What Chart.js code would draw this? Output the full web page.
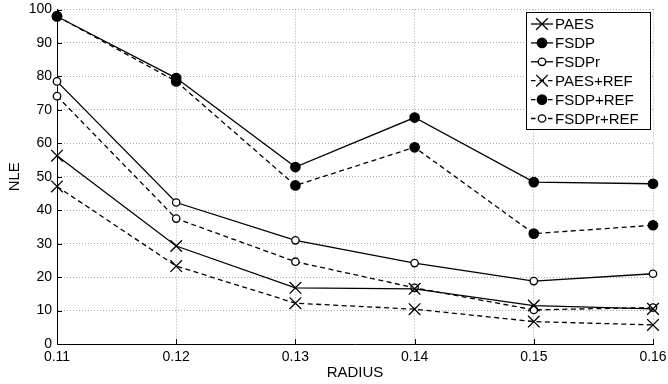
<!DOCTYPE html>
<html>
<head>
<meta charset="utf-8">
<script src="https://cdn.jsdelivr.net/npm/chart.js@4"></script>
<style>
  html, body { margin: 0; padding: 0; background: #fff; }
  #wrap { width: 668px; height: 384px; }
</style>
</head>
<body>
<div id="wrap"><canvas id="nleChart" width="668" height="384"></canvas></div>
<script>
const radius = [0.11, 0.12, 0.13, 0.14, 0.15, 0.16];
const seriesNames = ['PAES', 'FSDP', 'FSDPr', 'PAES+REF', 'FSDP+REF', 'FSDPr+REF'];
const paes = [56.3, 29.3, 16.8, 16.5, 11.5, 10.5];
const fsdp = [97.9, 79.5, 52.9, 67.7, 48.4, 47.9];
const fsdpr = [78.5, 42.3, 31.0, 24.2, 18.8, 21.0];
const paesRef = [47.1, 23.3, 12.2, 10.4, 6.7, 5.7];
const fsdpRef = [98.0, 78.5, 47.4, 58.8, 33.0, 35.5];
const fsdprRef = [74.1, 37.5, 24.6, 16.8, 10.2, 10.9];
const yTicks = [0, 10, 20, 30, 40, 50, 60, 70, 80, 90, 100];

const FONT = "'Liberation Sans', Arial, Helvetica, sans-serif";
const DASH = [5, 3.5];

// marker style per series: x = cross, f = filled circle, o = open circle
const styles = [
  { marker: 'x', dash: [] },
  { marker: 'f', dash: [] },
  { marker: 'o', dash: [] },
  { marker: 'x', dash: DASH },
  { marker: 'f', dash: DASH },
  { marker: 'o', dash: DASH }
];
const seriesData = [paes, fsdp, fsdpr, paesRef, fsdpRef, fsdprRef];

function pointOpts(m) {
  if (m === 'x') return { pointStyle: 'crossRot', pointRadius: 8.2, pointBackgroundColor: '#000' };
  if (m === 'f') return { pointStyle: 'circle', pointRadius: 4.7, pointBackgroundColor: '#000' };
  return { pointStyle: 'circle', pointRadius: 3.7, pointBackgroundColor: '#fff' };
}

const datasets = seriesData.map((vals, i) => Object.assign({
  label: seriesNames[i],
  data: vals.map((v, j) => ({ x: radius[j], y: v })),
  borderColor: '#000',
  borderWidth: 1.3,
  borderDash: styles[i].dash,
  pointBorderColor: '#000',
  pointBorderWidth: 1.3,
  tension: 0,
  clip: false
}, pointOpts(styles[i].marker)));

function drawMarker(ctx, m, x, y) {
  ctx.save();
  ctx.setLineDash([]);
  ctx.lineWidth = 1.3;
  ctx.strokeStyle = '#000';
  if (m === 'x') {
    const h = 5.8;
    ctx.beginPath();
    ctx.moveTo(x - h, y - h); ctx.lineTo(x + h, y + h);
    ctx.moveTo(x - h, y + h); ctx.lineTo(x + h, y - h);
    ctx.stroke();
  } else {
    ctx.beginPath();
    ctx.arc(x, y, m === 'f' ? 4.7 : 3.7, 0, Math.PI * 2);
    ctx.fillStyle = m === 'f' ? '#000' : '#fff';
    ctx.fill();
    ctx.stroke();
  }
  ctx.restore();
}

// inward ticks + legend box, matlab style
const extras = {
  id: 'extras',
  afterDatasetsDraw(chart) {
    const ctx = chart.ctx;
    const a = chart.chartArea;
    const xs = chart.scales.x, ys = chart.scales.y;
    ctx.save();
    ctx.strokeStyle = '#000';
    ctx.lineWidth = 1;
    ctx.setLineDash([]);
    ctx.beginPath();
    radius.forEach(r => {
      const px = Math.round(xs.getPixelForValue(r)) + 0.5;
      ctx.moveTo(px, a.bottom); ctx.lineTo(px, a.bottom - 5);
    });
    yTicks.forEach(t => {
      const py = Math.round(ys.getPixelForValue(t)) + 0.5;
      ctx.moveTo(a.left, py); ctx.lineTo(a.left + 5, py);
    });
    ctx.stroke();

    // legend
    const bx = 526.5, by = 12.5, bw = 124, bh = 117;
    ctx.fillStyle = '#fff';
    ctx.fillRect(bx, by, bw, bh);
    ctx.strokeRect(bx, by, bw, bh);
    ctx.font = '15px ' + FONT;
    ctx.textBaseline = 'middle';
    ctx.fillStyle = '#000';
    seriesNames.forEach((name, i) => {
      const y = 24 + i * 18.9;
      ctx.save();
      ctx.lineWidth = 1.3;
      ctx.setLineDash(styles[i].dash.length ? [4.5, 4] : []);
      ctx.beginPath();
      ctx.moveTo(531, y); ctx.lineTo(553, y);
      ctx.stroke();
      ctx.restore();
      drawMarker(ctx, styles[i].marker, 542, y);
      ctx.fillText(name, 555, y + 1);
    });
    ctx.restore();
  }
};

const gridColor = ctx => ctx.index === 0 ? 'rgba(0,0,0,0)' : '#a8a8a8';

const config = {
  type: 'line',
  data: { datasets: datasets },
  options: {
    responsive: false,
    animation: false,
    layout: { padding: { left: 0, right: 15, top: 9, bottom: 0 } },
    plugins: {
      legend: { display: false },
      tooltip: { enabled: false }
    },
    scales: {
      x: {
        type: 'linear',
        min: 0.11,
        max: 0.16,
        afterBuildTicks(scale) {
          scale.ticks = radius.map(v => ({ value: v }));
        },
        afterFit(scale) {
          scale.height = 40;
          scale.paddingLeft = 0;
          scale.paddingRight = 0;
        },
        grid: { color: gridColor, lineWidth: 1, drawTicks: false },
        border: { display: true, color: '#000', width: 1, dash: [1, 2] },
        ticks: {
          color: '#000',
          font: { family: FONT, size: 14 },
          padding: 5,
          maxRotation: 0,
          callback: v => Number(v).toFixed(2)
        },
        title: {
          display: true,
          text: 'RADIUS',
          color: '#000',
          font: { family: FONT, size: 15 },
          padding: { top: 0, bottom: 2 }
        }
      },
      y: {
        min: 0,
        max: 100,
        afterBuildTicks(scale) {
          scale.ticks = yTicks.map(v => ({ value: v }));
        },
        afterFit(scale) {
          scale.width = 57;
          scale.paddingTop = 0;
          scale.paddingBottom = 0;
        },
        grid: { color: gridColor, lineWidth: 1, drawTicks: false },
        border: { display: true, color: '#000', width: 1, dash: [1, 2] },
        ticks: {
          color: '#000',
          font: { family: FONT, size: 14 },
          padding: 5
        },
        title: {
          display: true,
          text: 'NLE',
          color: '#000',
          font: { family: FONT, size: 15 },
          padding: { top: 6, bottom: 0 }
        }
      }
    }
  },
  plugins: [extras]
};

const nleChart = new Chart(document.getElementById('nleChart').getContext('2d'), config);
</script>
</body>
</html>
